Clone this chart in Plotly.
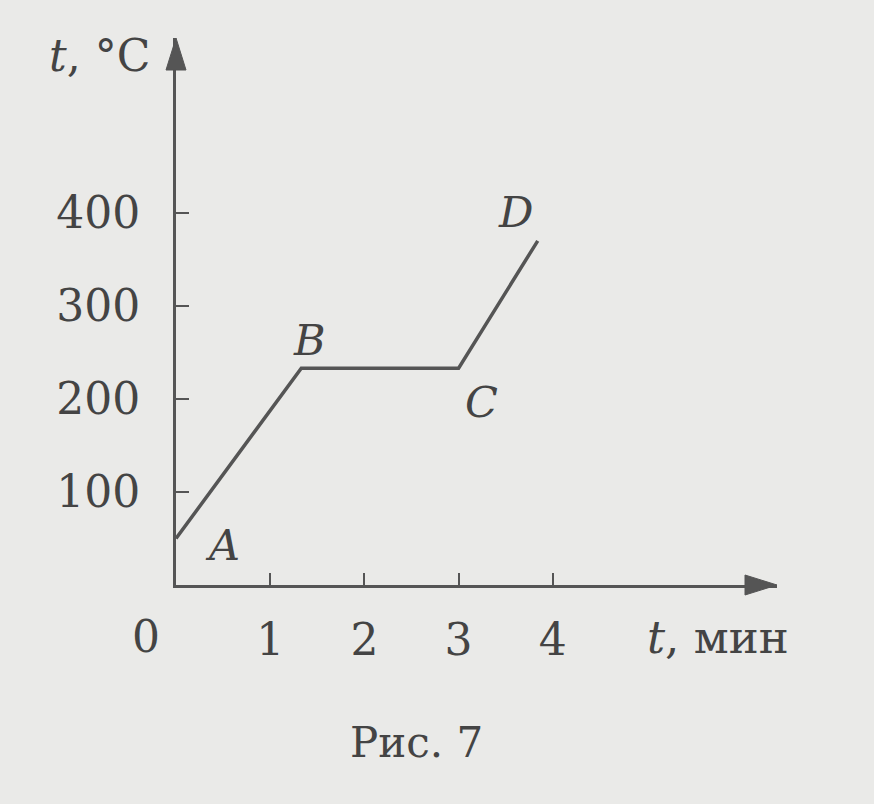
import plotly.graph_objects as go

# Data
time_min = [0, 1.33, 3.0, 3.84]
temp_c = [50, 233, 233, 370]
point_labels = ["A", "B", "C", "D"]
label_x = [0.49, 1.42, 3.24, 3.60]
label_y = [43, 263, 197, 401]
x_ticks = [1, 2, 3, 4]
y_ticks = [100, 200, 300, 400]

XMAX = 6.38
YMAX = 588

INK = "#555555"
TXT = "#444444"
BG = "#eaeae8"
FONT = "DejaVu Serif"

fig = go.Figure()
fig.add_trace(go.Scatter(
    x=time_min, y=temp_c, mode="lines",
    line=dict(color=INK, width=3.5),
    cliponaxis=False, hoverinfo="skip", showlegend=False,
))

# point letters
for lx, ly, t in zip(label_x, label_y, point_labels):
    fig.add_annotation(x=lx, y=ly, text=f"<i>{t}</i>", showarrow=False,
                       font=dict(family=FONT, size=43, color=TXT),
                       xanchor="center", yanchor="middle")

# arrowheads (paper refs so they are not clipped by the plot area)
fig.add_shape(type="path", xref="paper", yref="paper",
              xsizemode="pixel", ysizemode="pixel",
              xanchor=0, yanchor=1,
              path="M0,0 L-10,-32 L10,-32 Z",
              fillcolor=INK, line=dict(color=INK, width=1))
fig.add_shape(type="path", xref="paper", yref="paper",
              xsizemode="pixel", ysizemode="pixel",
              xanchor=1, yanchor=0,
              path="M0,0 L-32,10 L-32,-10 Z",
              fillcolor=INK, line=dict(color=INK, width=1))

# axis titles and other texts
fig.add_annotation(xref="paper", yref="paper", x=-0.05, y=0.0, text="0",
                   showarrow=False, xanchor="center", yanchor="top", yshift=-24,
                   font=dict(family=FONT, size=44, color=TXT))
fig.add_annotation(x=XMAX, y=0, xref="x", yref="y", text="<i>t</i>, мин",
                   showarrow=False, xanchor="right", yanchor="top", yshift=-24, xshift=14,
                   font=dict(family=FONT, size=45, color=TXT))
fig.add_annotation(x=0, y=YMAX, xref="x", yref="y", text="<i>t</i>, °C",
                   showarrow=False, xanchor="right", yanchor="top", xshift=-24, yshift=10,
                   font=dict(family=FONT, size=44, color=TXT))
fig.add_annotation(xref="paper", yref="paper", x=0.40, y=0, text="Рис. 7",
                   showarrow=False, xanchor="center", yanchor="top", yshift=-131,
                   font=dict(family=FONT, size=42, color=TXT))

fig.update_xaxes(range=[0, XMAX], showgrid=False, zeroline=False,
                 showline=True, linecolor=INK, linewidth=3,
                 ticks="inside", ticklen=12, tickwidth=2, tickcolor=INK,
                 tickvals=x_ticks, ticktext=[str(v) for v in x_ticks],
                 ticklabelstandoff=14,
                 tickfont=dict(family=FONT, size=44, color=TXT))
fig.update_yaxes(range=[0, YMAX], showgrid=False, zeroline=False,
                 showline=True, linecolor=INK, linewidth=3,
                 ticks="inside", ticklen=13, tickwidth=2, tickcolor=INK,
                 tickvals=y_ticks, ticktext=[str(v) for v in y_ticks],
                 ticklabelstandoff=24,
                 tickfont=dict(family=FONT, size=44, color=TXT))

fig.update_layout(
    width=874, height=804,
    margin=dict(l=176, r=97, t=38, b=219),
    paper_bgcolor=BG, plot_bgcolor=BG,
    showlegend=False,
)

fig.write_html("out.html", config={"displayModeBar": False},
               post_script="document.body.style.margin='0';document.body.style.background='%s';" % BG)
